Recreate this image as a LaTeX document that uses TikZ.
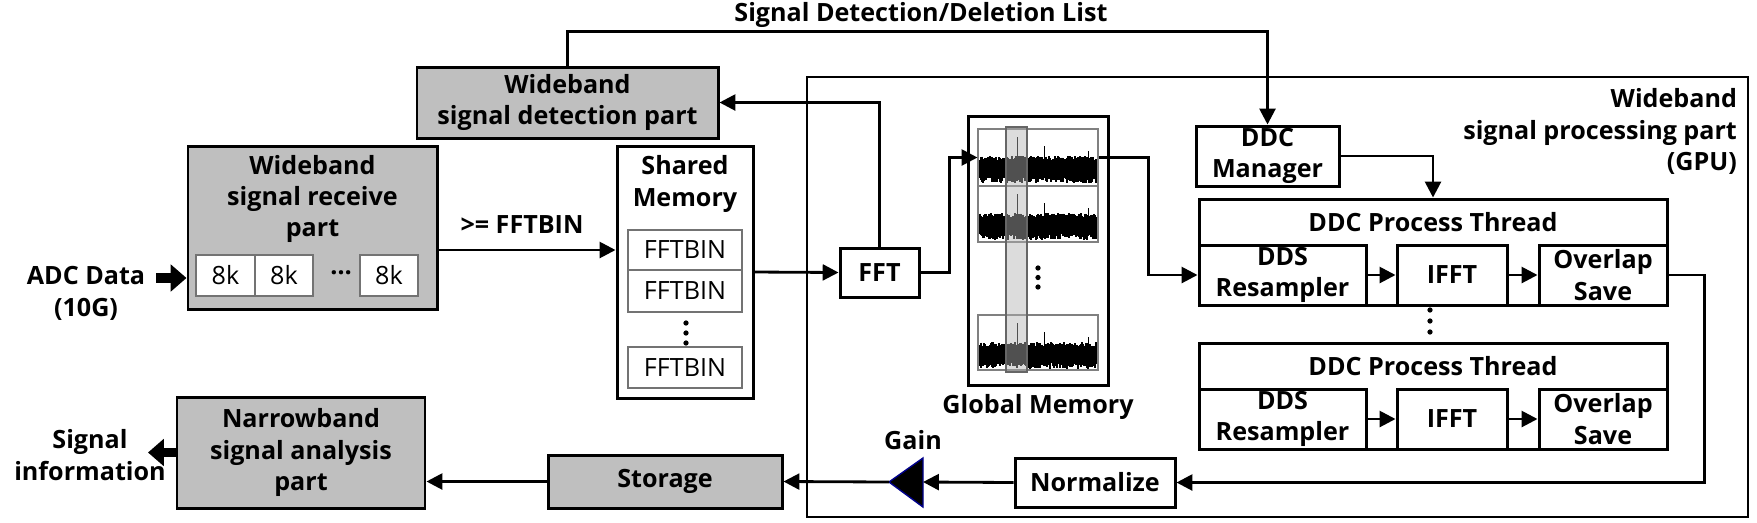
\documentclass[tikz,border=0pt]{standalone}
\usepackage{fontspec}
\setmainfont{Open Sans}
\usetikzlibrary{arrows.meta}

\newcommand\bigbf{\bfseries\fontsize{14.3}{17.8}\selectfont}
\newcommand\bigrm{\mdseries\fontsize{14.3}{17.8}\selectfont}

\begin{document}
\begin{tikzpicture}[
  x=0.02cm, y=-0.02cm,
  every node/.style={font=\bigbf},
  sz/.style 2 args={minimum width=#1*0.02cm, minimum height=#2*0.02cm},
  box/.style={draw, line width=1.7pt, fill=white, align=center, inner sep=0pt},
  part/.style={box, fill=black!25},
  cell/.style={draw=black!55, line width=0.6pt, fill=white, inner sep=0pt, font=\bigrm},
  panel/.style={draw=black!50, line width=0.6pt, inner sep=0pt},
  lab/.style={align=center, inner sep=1pt},
  arr/.style={-{Triangle[length=9pt,width=9pt]}, line width=1.6pt},
  blk/.style={-{Triangle[length=9pt,width=15pt]}, line width=5.5pt}]
  \useasboundingbox (0,0) rectangle (1757,522);

  % GPU part
  \node[box, line width=1.2pt, sz={941}{440}] (gpu) at (1277.5,297) {};
  \node[lab, align=right, anchor=east] (gpulbl) at (1739,131.5) {Wideband\\signal processing part\\(GPU)};

  \node (title) at (921,15) {Signal Detection/Deletion List};

  % receive side
  \node[part, sz={301}{71}] (det) at (567.5,102.5) {Wideband\\signal detection part};
  \node[part, sz={249}{163}] (recv) at (312.5,227.5) {};
  \node[lab] (recvlbl) at (312.5,199) {Wideband\\signal receive\\part};
  \node[cell, sz={59}{41}] (c1) at (225.5,275.5) {8k};
  \node[cell, sz={58}{41}] (c2) at (284,275.5) {8k};
  \node[lab] (cdots) at (341,273) {\dots};
  \node[cell, sz={58}{41}] (c3) at (389,275.5) {8k};
  \node[lab] (adc) at (86,293.5) {ADC Data\\(10G)};
  \coordinate (adcout) at (156,278);

  % shared memory
  \node[box, sz={136}{252}] (shm) at (685,272) {};
  \node[lab] (shmlbl) at (685,184) {Shared\\Memory};
  \node[cell, sz={114}{40}] (b1) at (685,250) {FFTBIN};
  \node[cell, sz={114}{42}] (b2) at (685,291) {FFTBIN};
  \node[cell, sz={114}{41}] (b3) at (685,367.5) {FFTBIN};
  \foreach \d in {0,1,2} \fill (686,323+10*\d) circle[radius=1.5pt];
  \node[lab] (thr) at (522,225) {>= FFTBIN};

  \node[box, sz={79}{49}] (fft) at (879.5,272.5) {FFT};

  % global memory with spectra
  \node[box, sz={140}{269}] (gm) at (1038,250.5) {};
  \node[panel, sz={120}{57}] (p1) at (1038,157.5) {};
  \node[panel, sz={120}{56}] (p2) at (1038,214) {};
  \node[panel, sz={120}{55}] (p3) at (1038,342.5) {};
  \pgfmathsetseed{7}
  \foreach \t in {129,186,315} {
    \foreach \i in {0,...,116} {
      \pgfmathsetmacro\ya{\t+27+5*rnd}
      \pgfmathsetmacro\yb{\t+48+6*rnd}
      \draw[line width=0.7pt] (980+\i,\ya) -- (980+\i,\yb);
    }
    \draw[line width=0.4pt] (1017,\t+8) -- (1017,\t+32);
    \draw[line width=0.4pt] (1044,\t+17) -- (1044,\t+32);
    \draw[line width=0.4pt] (1088,\t+22) -- (1088,\t+32);
  }
  \draw[fill=black!30, fill opacity=0.45, draw=black!60, line width=0.6pt] (1006,127) rectangle (1027,372);
  \foreach \d in {0,1,2} \fill (1038,268+9.5*\d) circle[radius=1.5pt];
  \node[lab] (gmlbl) at (1038,407) {Global Memory};

  % DDC
  \node[box, sz={143}{60}] (mgr) at (1267.5,156) {DDC\\Manager};
  \foreach \n/\y in {1/199,2/343} {
    \node[box, sz={468}{106}] (th\n) at (1433,\y+53) {};
    \node[lab] (th\n lbl) at (1433,\y+23) {DDC Process Thread};
    \node[box, sz={167}{60}] (dds\n) at (1282.5,\y+76) {DDS\\Resampler};
    \node[box, sz={110}{60}] (ifft\n) at (1452,\y+76) {IFFT};
    \node[box, sz={128}{60}] (ovl\n) at (1603,\y+76) {Overlap\\Save};
    \draw[arr] (dds\n) -- (ifft\n);
    \draw[arr] (ifft\n) -- (ovl\n);
  }
  \foreach \d in {0,1,2} \fill (1430,310+11*\d) circle[radius=1.5pt];

  % output side
  \node[box, sz={160}{49}] (norm) at (1095,482.5) {Normalize};
  \coordinate (gaintip) at (889,482);
  \coordinate (gainbase) at (923,482);
  \filldraw[fill=black, draw=blue!55!black, line width=0.8pt] (gaintip) -- (923,458) -- (923,507) -- cycle;
  \node[lab] (gainlbl) at (913,440) {Gain};
  \node[part, sz={234}{53}] (stor) at (665,481.5) {Storage};
  \node[part, sz={248}{111}] (nb) at (301,452.5) {Narrowband\\signal analysis\\part};
  \node[lab] (info) at (90,455) {Signal\\information};
  \coordinate (infoin) at (148,450);

  \draw[blk] (adcout) -- (adcout -| recv.west);
  \draw[arr] (recv.east |- b1) -- (shm.west |- b1);
  \draw[arr] (shm.east) -- (fft.west);
  \draw[arr] (fft.north) |- (det.east);
  \draw[arr] (det.north) -- ++(0,-34) -| (mgr.north);
  \draw[arr] (fft.east) -- ++(29,0) |- (p1.west);
  \draw[arr] (p1.east) -- ++(50,0) |- (dds1.west);
  \draw[arr] (mgr.east) -| (th1.north);
  \draw[arr] (ovl1.east) -- ++(36,0) |- (norm.east);
  \draw[arr] (norm.west) -- (gainbase);
  \draw[arr] (gaintip) -- (stor.east);
  \draw[arr] (stor.west) -- (stor.west -| nb.east);
  \draw[blk] (nb.west) -- (nb.west -| infoin);
\end{tikzpicture}
\end{document}
